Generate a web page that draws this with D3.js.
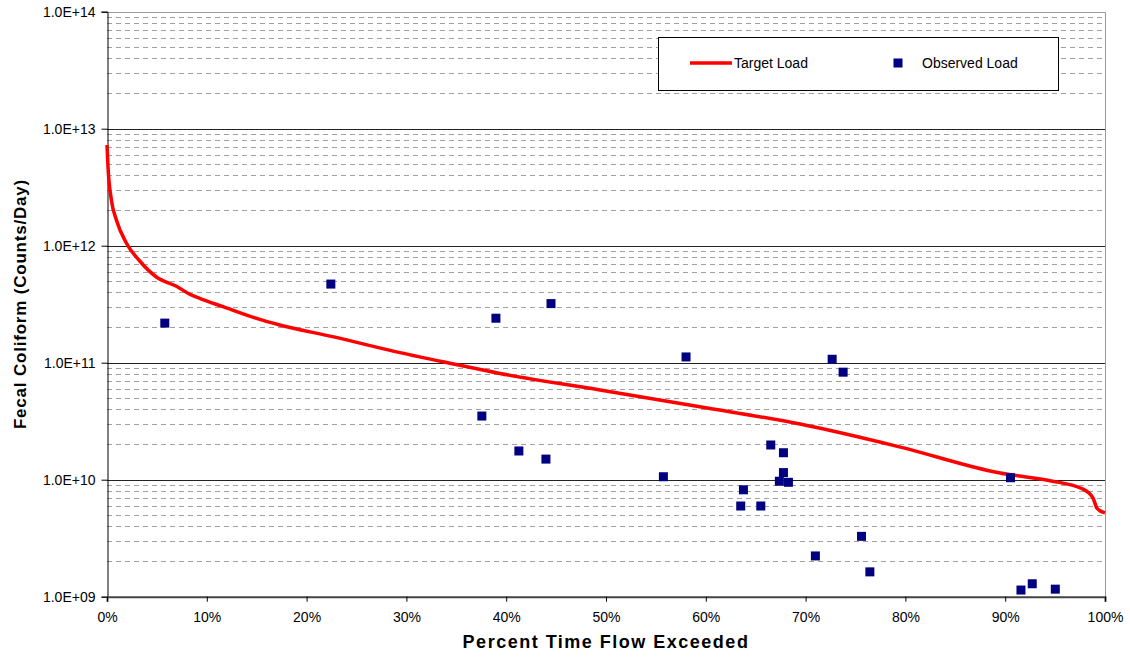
<!DOCTYPE html>
<html>
<head>
<meta charset="utf-8">
<script src="https://cdn.jsdelivr.net/npm/d3@7"></script>
<style>
  body { margin: 0; background: #fff; }
  svg { display: block; font-family: "Liberation Sans", Arial, sans-serif; }
</style>
</head>
<body>
<svg id="chart" width="1130" height="663"></svg>
<script>
// target load duration curve (percent of time flow exceeded, counts/day)
var curvePct = [0, 0.1, 0.44, 0.94, 1.95, 3.28, 4.95, 6.96, 8.29, 9.29, 11.63, 14.98, 17.3, 22.6,
  29.35, 34.36, 39.37, 49.4, 59.4, 69.45, 79.5, 89.5, 94.5, 97.8, 98.8, 99.2, 100];
var curveLoad = [7.26e12, 4.73e12, 2.46e12, 1.66e12, 1.05e12, 7.4e11, 5.4e11, 4.5e11, 3.85e11, 3.55e11,
  3.01e11, 2.39e11, 2.10e11, 1.67e11, 1.22e11, 9.9e10, 8.1e10, 5.85e10, 4.2e10, 2.99e10, 1.9e10,
  1.14e10, 9.8e9, 8.3e9, 6.97e9, 5.7e9, 5.2e9];

// observed loads
var obsPct = [5.79, 22.43, 37.56, 38.97, 41.27, 43.98, 44.49, 55.75, 58.02, 63.5, 63.77, 65.51, 66.51,
  67.37, 67.78, 67.78, 68.28, 70.98, 72.66, 73.76, 75.6, 76.44, 90.53, 91.58, 92.71, 95.02];
var obsLoad = [2.18e11, 4.7e11, 3.5e10, 2.4e11, 1.76e10, 1.5e10, 3.2e11, 1.06e10, 1.12e11, 5.96e9, 8.2e9,
  5.96e9, 1.98e10, 9.7e9, 1.15e10, 1.7e10, 9.5e9, 2.23e9, 1.07e11, 8.3e10, 3.28e9, 1.63e9, 1.04e10,
  1.14e9, 1.29e9, 1.16e9];

var yMajor = [1e9, 1e10, 1e11, 1e12, 1e13, 1e14];
var xTicks = [0, 10, 20, 30, 40, 50, 60, 70, 80, 90, 100];

var svg = d3.select('#chart');
var pLeft = 107, pRight = 1105, pTop = 11.7, pBottom = 596.7;

var x = d3.scaleLinear().domain([0, 100]).range([pLeft, pRight]);
var y = d3.scaleLog().domain([1e9, 1e14]).range([pBottom, pTop]);

function snap(v) { return Math.round(v) + 0.5; }

// minor grid (dashed)
var minor = y.ticks().filter(v => yMajor.indexOf(v) < 0);
svg.append('g').selectAll('line')
  .data(minor).enter().append('line')
  .attr('x1', pLeft).attr('x2', pRight)
  .attr('y1', d => snap(y(d))).attr('y2', d => snap(y(d)))
  .attr('stroke', '#a0a0a0').attr('stroke-dasharray', '5,4');

// major grid
svg.append('g').selectAll('line')
  .data(yMajor.slice(1, 5)).enter().append('line')
  .attr('x1', pLeft).attr('x2', pRight)
  .attr('y1', d => snap(y(d))).attr('y2', d => snap(y(d)))
  .attr('stroke', '#222');

// top / right border
svg.append('path')
  .attr('d', 'M' + pLeft + ',' + snap(pTop) + 'H' + (pRight + 0.5) + 'V' + pBottom)
  .attr('fill', 'none').attr('stroke', '#999');

// axes
var yAxis = d3.axisLeft(y).tickValues(yMajor).tickSize(6).tickPadding(6)
  .tickFormat(d => {
    var e = Math.round(Math.log10(d));
    return '1.0E+' + (e < 10 ? '0' : '') + e;
  });
var gy = svg.append('g').attr('transform', 'translate(' + (pLeft + 0.5) + ',0)').call(yAxis);
gy.select('.domain').attr('stroke', '#000');
gy.selectAll('.tick line').attr('stroke', '#000');
gy.selectAll('text').attr('font-size', 14).attr('fill', '#000')
  .attr('font-family', '"Liberation Sans", Arial, sans-serif');

var xAxis = d3.axisBottom(x).tickValues(xTicks).tickSize(5).tickPadding(10)
  .tickFormat(d => d + '%');
var gx = svg.append('g').attr('transform', 'translate(0,' + pBottom + ')').call(xAxis);
gx.select('.domain').attr('stroke', '#444').attr('stroke-width', 2);
gx.selectAll('.tick line').attr('stroke', '#000');
gx.selectAll('text').attr('font-size', 14).attr('fill', '#000')
  .attr('font-family', '"Liberation Sans", Arial, sans-serif');

// target load line
var line = d3.line().x((d, i) => x(curvePct[i])).y(d => y(d)).curve(d3.curveMonotoneX);
svg.append('path').datum(curveLoad)
  .attr('d', line)
  .attr('fill', 'none').attr('stroke', '#ff0000').attr('stroke-width', 3.5);

// observed load markers
svg.append('g').selectAll('rect')
  .data(obsLoad).enter().append('rect')
  .attr('x', (d, i) => x(obsPct[i]) - 4.5)
  .attr('y', d => y(d) - 4.5)
  .attr('width', 9).attr('height', 9)
  .attr('fill', '#000080');

// legend
var lg = svg.append('g');
lg.append('rect').attr('x', 658.5).attr('y', 37.5).attr('width', 400).attr('height', 53)
  .attr('fill', '#fff').attr('stroke', '#000');
lg.append('line').attr('x1', 690).attr('x2', 732).attr('y1', 63).attr('y2', 63)
  .attr('stroke', '#ff0000').attr('stroke-width', 3.5);
lg.append('text').attr('x', 734).attr('y', 68).attr('font-size', 14).text('Target Load');
lg.append('rect').attr('x', 893.5).attr('y', 58.5).attr('width', 9).attr('height', 9).attr('fill', '#000080');
lg.append('text').attr('x', 922).attr('y', 68).attr('font-size', 14).text('Observed Load');

// axis titles
svg.append('text').attr('x', 606).attr('y', 648)
  .attr('text-anchor', 'middle').attr('font-size', 18).attr('font-weight', 'bold')
  .attr('letter-spacing', 1.5)
  .text('Percent Time Flow Exceeded');
svg.append('text').attr('transform', 'translate(26,304) rotate(-90)')
  .attr('text-anchor', 'middle').attr('font-size', 17).attr('font-weight', 'bold')
  .attr('letter-spacing', 0.8)
  .text('Fecal Coliform (Counts/Day)');
</script>
</body>
</html>
